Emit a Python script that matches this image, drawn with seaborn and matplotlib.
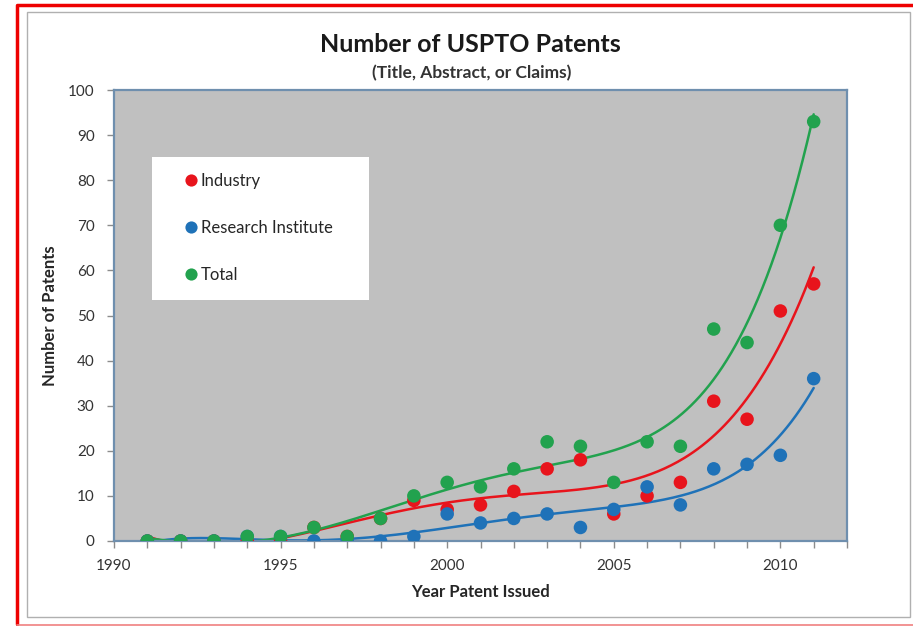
import numpy as np
import pandas as pd
import matplotlib
matplotlib.use("Agg")
import matplotlib.pyplot as plt
import seaborn as sns
from matplotlib.lines import Line2D
from matplotlib.patches import Rectangle
from matplotlib.ticker import MultipleLocator

# values
years = [1991, 1992, 1993, 1994, 1995, 1996, 1997, 1998, 1999, 2000, 2001,
         2002, 2003, 2004, 2005, 2006, 2007, 2008, 2009, 2010, 2011]
industry = [0, 0, 0, 0, 0, 3, 1, 5, 9, 7, 8, 11, 16, 18, 6, 10, 13, 31, 27, 51, 57]
research = [0, 0, 0, 1, 1, 0, 0, 0, 1, 6, 4, 5, 6, 3, 7, 12, 8, 16, 17, 19, 36]
total = [0, 0, 0, 1, 1, 3, 1, 5, 10, 13, 12, 16, 22, 21, 13, 22, 21, 47, 44, 70, 93]

series_names = ["Industry", "Research Institute", "Total"]
series_values = [industry, research, total]
colors = ["#e8141c", "#1f72b8", "#22a24e"]
trend_order = 5

sns.set_theme(style="white")
plt.rcParams["font.family"] = ["Lato", "DejaVu Sans"]

rows = []
for name, vals in zip(series_names, series_values):
    for yr, v in zip(years, vals):
        rows.append([yr, v, name])
df = pd.DataFrame(rows, columns=["Year", "Patents", "Series"])

fig = plt.figure(figsize=(9.13, 6.26), dpi=100)
fig.patch.set_facecolor("white")
ax = fig.add_axes([114 / 913, 85 / 626, 733 / 913, 451 / 626])
ax.set_facecolor("#c0c0c0")

# polynomial trend lines (like the Excel trendline)
for name, vals, c in zip(series_names, series_values, colors):
    p = np.polynomial.Polynomial.fit(years, vals, trend_order)
    xs = np.linspace(years[0], years[-1], 300)
    sns.lineplot(x=xs, y=p(xs), color=c, lw=1.8, ax=ax, zorder=2)

sns.scatterplot(data=df, x="Year", y="Patents", hue="Series",
                palette=dict(zip(series_names, colors)), s=95,
                edgecolor="none", ax=ax, zorder=3)

ax.set_xlim(1990, 2012)
ax.set_ylim(0, 100)
ax.xaxis.set_major_locator(MultipleLocator(5))
ax.xaxis.set_minor_locator(MultipleLocator(1))
ax.yaxis.set_major_locator(MultipleLocator(10))
ax.tick_params(axis="both", which="both", direction="out", color="#8c8c8c",
               bottom=True, left=True, labelsize=11, labelcolor="#333333")
ax.tick_params(axis="both", which="major", length=5, width=1)
ax.tick_params(axis="x", which="major", pad=8)
ax.tick_params(axis="y", which="major", pad=9)
ax.tick_params(axis="x", which="minor", length=5, width=1)
for side, sp in ax.spines.items():
    sp.set_color("#6f8fae")
    sp.set_linewidth(1.6)

ax.set_xlabel("Year Patent Issued", fontsize=12, fontweight="bold", color="#262626", labelpad=8)
ax.set_ylabel("Number of Patents", fontsize=12, fontweight="bold", color="#262626", labelpad=7)

fig.text(470 / 913, 1 - 45 / 626, "Number of USPTO Patents", ha="center", va="center",
         fontsize=18, fontweight="bold", color="#1a1a1a")
fig.text(472 / 913, 1 - 73 / 626, "(Title, Abstract, or Claims)", ha="center", va="center",
         fontsize=12.5, fontweight="bold", color="#333333")

# white legend box, then the legend entries on top of it
ax.add_patch(Rectangle((38 / 733, 241 / 451), 217 / 733, 143 / 451, transform=ax.transAxes,
                       fc="white", ec="none", zorder=4))
leg = ax.legend(loc="upper left", bbox_to_anchor=(70 / 733, 1 - 83 / 451), frameon=False,
                fontsize=12, labelspacing=1.85, borderpad=0, handlelength=0.8,
                handletextpad=0.2, markerscale=0.9, borderaxespad=0)
leg.set_zorder(5)
for t in leg.get_texts():
    t.set_color("#262626")

# frame around the chart area, and the red outline of the screenshot
fig.patches.append(Rectangle((27 / 913, 1 - 617 / 626), 883 / 913, 605 / 626,
                             transform=fig.transFigure, fill=False, ec="#b0b0b0", lw=1))
fig.lines.append(Line2D([16.5 / 913, 16.5 / 913, 1], [1 - 624 / 626, 1 - 4.5 / 626, 1 - 4.5 / 626],
                        transform=fig.transFigure, color="#ee0000", lw=2.5))
fig.lines.append(Line2D([16.5 / 913, 1], [1 - 624.5 / 626, 1 - 624.5 / 626],
                        transform=fig.transFigure, color="#f08080", lw=1.2))

fig.savefig("out.png", dpi=100)
